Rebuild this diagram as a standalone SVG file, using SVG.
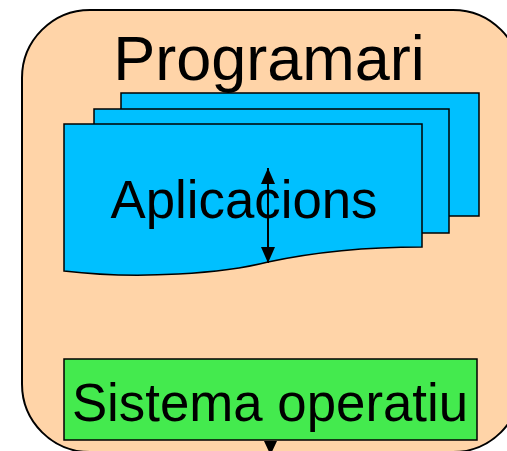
<svg xmlns="http://www.w3.org/2000/svg" width="507" height="451" viewBox="0 0 507 451">
<defs>
<style>
.sheet{fill:#00C0FF;stroke:#000;stroke-width:1.5}
.lbl{font-family:"Liberation Sans",Arial,sans-serif;fill:#000;text-anchor:middle}
</style>
<marker id="ah" viewBox="0 0 16 14" refX="16" refY="7" markerWidth="16" markerHeight="14" markerUnits="userSpaceOnUse" orient="auto-start-reverse">
<path d="M0,0 L16,7 L0,14 Z" fill="#000"/>
</marker>
</defs>
<g id="programari">
<rect x="22" y="10" width="499" height="442" rx="68" ry="68" fill="#FFD4A8" stroke="#000" stroke-width="2"/>
<text class="lbl" x="269" y="80" font-size="63">Programari</text>
</g>
<g id="aplicacions">
<rect class="sheet" x="121" y="93" width="358" height="123"/>
<rect class="sheet" x="94" y="109" width="355" height="124"/>
<path class="sheet" d="M64,124 H422 V247 C360,247 310,253 268,262 C225,273 140,280 64,271 Z"/>
<text class="lbl" x="244" y="218" font-size="52.8">Aplicacions</text>
</g>
<g id="sistema">
<rect x="64" y="359" width="413" height="81" fill="#44EA4E" stroke="#000" stroke-width="1.5"/>
<text class="lbl" x="270" y="421" font-size="52.8">Sistema operatiu</text>
</g>
<g id="connectors">
<line x1="268" y1="168" x2="268" y2="263" stroke="#000" stroke-width="2" marker-start="url(#ah)" marker-end="url(#ah)"/>
<path d="M264,441 L277,441 L270.5,455 Z" fill="#000"/>
</g>
</svg>
